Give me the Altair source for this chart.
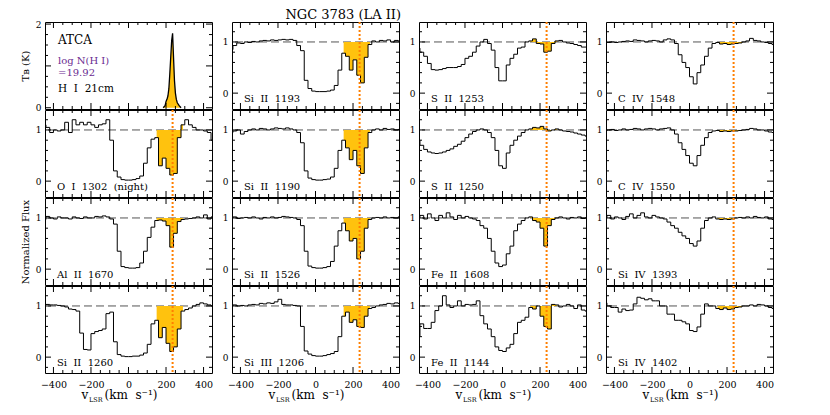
import altair as alt
import pandas as pd

# ---------------- data ----------------
VEL = [-450, -430, -410, -390, -370, -350, -330, -310, -290, -270,
       -250, -230, -210, -190, -170, -150, -130, -110, -90, -70,
       -50, -30, -10, 10, 30, 50, 70, 90, 110, 130,
       150, 170, 190, 210, 230, 250, 270, 290, 310, 330,
       350, 370, 390, 410, 430, 450]

HI_VEL = [185, 195, 200, 205, 210, 215, 220, 225, 230, 235, 240, 245, 250, 255, 260, 270, 280]
HI_TB = [0.0, 0.05, 0.15, 0.2, 0.28, 0.45, 0.8, 1.2, 1.6, 1.78, 1.2, 0.65, 0.35, 0.2, 0.12, 0.05, 0.0]

FLUX_SI2_1193 = [0.85, 0.93, 0.98, 0.97, 1.00, 0.99, 1.01, 1.00, 1.02, 1.03,
                 1.02, 1.04, 1.03, 1.04, 1.05, 1.04, 1.05, 1.03, 0.93, 0.83,
                 0.25, 0.09, 0.04, 0.03, 0.03, 0.03, 0.04, 0.06, 0.15, 0.45,
                 0.78, 0.72, 0.45, 0.65, 0.35, 0.20, 0.70, 0.95, 1.02, 1.00,
                 1.03, 1.02, 1.04, 1.00, 1.03, 1.02]
FLUX_S2_1253 = [0.88, 0.80, 0.72, 0.58, 0.46, 0.45, 0.46, 0.48, 0.50, 0.50,
                0.50, 0.52, 0.56, 0.68, 0.72, 0.80, 0.92, 1.00, 1.05, 0.97,
                0.84, 0.50, 0.24, 0.24, 0.55, 0.68, 0.76, 0.88, 0.90, 1.00,
                1.02, 1.06, 0.97, 0.96, 0.80, 0.82, 0.97, 1.02, 1.03, 1.00,
                0.98, 0.97, 0.95, 0.93, 0.90, 0.90]
FLUX_C4_1548 = [1.00, 0.99, 1.00, 0.99, 1.00, 1.01, 1.02, 1.01, 1.04, 1.03,
                1.02, 1.00, 1.02, 1.03, 1.02, 1.00, 1.04, 1.06, 1.04, 0.97,
                0.75, 0.60, 0.50, 0.32, 0.18, 0.40, 0.55, 0.72, 0.88, 0.97,
                0.99, 0.96, 0.97, 0.95, 0.96, 0.97, 0.98, 1.00, 1.02, 1.07,
                1.03, 1.02, 1.00, 0.99, 0.97, 0.95]
FLUX_OI_1302 = [1.10, 1.05, 0.95, 1.00, 0.98, 1.00, 1.15, 0.95, 1.20, 1.10,
                1.15, 1.10, 1.15, 1.10, 1.05, 1.10, 1.12, 1.20, 0.80, 0.20,
                0.08, 0.03, 0.02, 0.02, 0.03, 0.05, 0.10, 0.35, 0.65, 0.82,
                0.85, 0.30, 0.45, 0.25, 0.12, 0.15, 0.85, 1.10, 1.20, 1.10,
                1.05, 1.00, 1.00, 0.98, 0.95, 0.80]
FLUX_SI2_1190 = [0.95, 0.98, 1.00, 0.92, 0.97, 1.00, 1.02, 1.00, 1.03, 1.02,
                 1.00, 1.02, 1.04, 1.03, 1.02, 1.04, 1.02, 1.00, 0.95, 0.75,
                 0.20, 0.06, 0.03, 0.02, 0.02, 0.03, 0.04, 0.08, 0.25, 0.60,
                 0.80, 0.65, 0.42, 0.60, 0.30, 0.15, 0.65, 0.95, 1.00, 1.02,
                 1.00, 1.03, 1.01, 1.02, 1.00, 1.01]
FLUX_S2_1250 = [0.80, 0.70, 0.62, 0.57, 0.55, 0.54, 0.55, 0.57, 0.60, 0.63,
                0.68, 0.72, 0.78, 0.85, 0.92, 0.97, 1.00, 1.02, 1.00, 0.95,
                0.85, 0.60, 0.30, 0.25, 0.55, 0.70, 0.80, 0.88, 0.95, 1.00,
                1.02, 1.05, 1.04, 1.07, 1.02, 0.98, 1.00, 1.02, 1.00, 0.98,
                0.97, 0.96, 0.94, 0.92, 0.90, 0.88]
FLUX_C4_1550 = [0.98, 1.00, 1.01, 0.99, 1.00, 1.02, 1.00, 1.01, 1.03, 1.02,
                1.00, 1.02, 1.03, 1.02, 1.00, 1.02, 1.03, 1.04, 1.00, 0.92,
                0.75, 0.62, 0.50, 0.35, 0.30, 0.50, 0.70, 0.85, 0.95, 0.98,
                0.99, 0.97, 0.98, 0.97, 0.98, 0.98, 0.99, 1.00, 1.01, 1.03,
                1.02, 1.00, 1.00, 0.98, 0.96, 0.95]
FLUX_AL2_1670 = [0.97, 1.03, 1.00, 0.98, 1.02, 1.00, 1.00, 0.98, 1.02, 1.00,
                 0.99, 1.02, 1.00, 1.00, 1.03, 1.02, 1.04, 1.02, 0.98, 0.88,
                 0.35, 0.05, 0.03, 0.02, 0.02, 0.03, 0.12, 0.35, 0.62, 0.82,
                 0.95, 0.96, 0.94, 0.85, 0.43, 0.70, 0.93, 0.97, 0.98, 0.99,
                 1.00, 1.02, 1.00, 1.06, 0.98, 1.02]
FLUX_SI2_1526 = [1.00, 1.02, 0.99, 1.00, 1.01, 1.00, 1.02, 1.00, 0.98, 1.01,
                 1.00, 1.02, 1.00, 1.01, 1.03, 1.02, 1.01, 1.00, 0.97, 0.85,
                 0.35, 0.06, 0.03, 0.02, 0.02, 0.03, 0.05, 0.15, 0.45, 0.75,
                 0.90, 0.75, 0.55, 0.60, 0.20, 0.35, 0.80, 0.97, 1.00, 1.01,
                 1.00, 1.02, 1.00, 1.01, 1.00, 1.02]
FLUX_FE2_1608 = [1.00, 1.05, 0.98, 1.08, 1.00, 0.95, 1.05, 1.00, 1.10, 1.02,
                 0.97, 1.05, 1.00, 1.03, 1.00, 0.98, 0.95, 0.85, 0.80, 0.60,
                 0.35, 0.12, 0.05, 0.08, 0.30, 0.45, 0.75, 0.88, 0.95, 1.00,
                 1.02, 0.95, 0.92, 0.80, 0.45, 0.85, 0.97, 1.00, 1.02, 1.00,
                 0.98, 1.01, 1.00, 1.02, 0.99, 1.00]
FLUX_SI4_1393 = [1.00, 1.05, 0.98, 1.02, 1.00, 0.97, 1.03, 1.08, 1.00, 1.05,
                 1.10, 1.02, 1.00, 1.05, 1.02, 1.00, 0.98, 0.92, 0.85, 0.80,
                 0.72, 0.65, 0.60, 0.50, 0.45, 0.55, 0.80, 0.95, 1.00, 1.02,
                 0.98, 0.97, 0.98, 0.97, 0.98, 1.00, 1.01, 1.00, 1.02, 1.00,
                 1.03, 1.01, 1.00, 1.02, 0.98, 0.97]
FLUX_SI2_1260 = [1.02, 1.03, 1.02, 1.02, 1.01, 1.00, 0.98, 0.94, 0.93, 0.90,
                 0.47, 0.15, 0.14, 0.46, 0.50, 0.52, 0.55, 0.85, 0.88, 0.30,
                 0.05, 0.02, 0.01, 0.01, 0.02, 0.02, 0.04, 0.08, 0.25, 0.65,
                 0.72, 0.38, 0.58, 0.27, 0.11, 0.20, 0.55, 0.90, 0.93, 0.96,
                 1.00, 1.03, 1.06, 1.04, 1.02, 1.00]
FLUX_SI3_1206 = [1.00, 1.02, 1.00, 1.01, 1.00, 1.02, 1.03, 1.02, 1.05, 1.04,
                 1.06, 1.05, 1.08, 1.13, 1.03, 1.02, 1.02, 1.01, 1.00, 0.60,
                 0.12, 0.06, 0.03, 0.02, 0.02, 0.03, 0.05, 0.07, 0.11, 0.40,
                 0.80, 0.88, 0.68, 0.73, 0.60, 0.58, 0.80, 0.95, 0.97, 1.00,
                 1.02, 1.03, 1.05, 1.04, 1.06, 1.05]
FLUX_FE2_1144 = [0.40, 0.65, 0.56, 0.56, 0.68, 0.91, 1.00, 1.20, 1.02, 0.97,
                 1.00, 1.10, 1.00, 1.03, 1.02, 1.03, 1.10, 0.81, 0.65, 0.55,
                 0.40, 0.20, 0.13, 0.11, 0.18, 0.25, 0.46, 0.68, 0.72, 0.78,
                 0.97, 0.94, 1.00, 0.80, 0.60, 0.55, 1.03, 1.02, 0.98, 1.00,
                 1.03, 1.00, 0.95, 1.02, 0.92, 0.90]
FLUX_SI4_1402 = [1.06, 1.00, 0.97, 0.97, 0.88, 0.94, 0.91, 0.92, 1.04, 1.17,
                 1.15, 1.12, 1.14, 1.10, 1.10, 1.00, 1.00, 0.84, 0.84, 0.72,
                 0.72, 0.69, 0.65, 0.52, 0.50, 0.59, 0.84, 1.04, 1.00, 1.00,
                 0.95, 0.93, 0.96, 0.93, 0.94, 0.97, 0.98, 1.00, 1.00, 1.02,
                 1.00, 1.03, 1.02, 1.00, 0.97, 0.95]

LABELS = [
    ["H I 21cm", "Si II 1193", "S II 1253", "C IV 1548"],
    ["O I 1302 (night)", "Si II 1190", "S II 1250", "C IV 1550"],
    ["Al II 1670", "Si II 1526", "Fe II 1608", "Si IV 1393"],
    ["Si II 1260", "Si III 1206", "Fe II 1144", "Si IV 1402"],
]
FLUXES = [
    [None, FLUX_SI2_1193, FLUX_S2_1253, FLUX_C4_1548],
    [FLUX_OI_1302, FLUX_SI2_1190, FLUX_S2_1250, FLUX_C4_1550],
    [FLUX_AL2_1670, FLUX_SI2_1526, FLUX_FE2_1608, FLUX_SI4_1393],
    [FLUX_SI2_1260, FLUX_SI3_1206, FLUX_FE2_1144, FLUX_SI4_1402],
]

X_MAJ = [-400, -200, 0, 200, 400]
X_MIN = [-350, -300, -250, -150, -100, -50, 50, 100, 150, 250, 300, 350]
Y_MAJ = [0, 1]
Y_MIN = [-0.2, 0.2, 0.4, 0.6, 0.8, 1.2]
HI_Y_MAJ = [0, 1, 2]
HI_Y_MIN = [0.25, 0.5, 0.75, 1.25, 1.5, 1.75]

TITLE = "NGC 3783 (LA II)"
V_HVC = 235
FILL_LO, FILL_HI = 150, 290

# ---------------- style ----------------
W, H = 167, 87
FONT = "DejaVu Serif"
XDOM = [-445, 445]
YDOM = [-0.31, 1.39]
HI_YDOM = [-0.03, 2.05]
FILLC = "#FFC20E"
DOTC = "#FF7F00"
DASHC = "#555555"
PURPLE = "#6A2C91"
MAJ, MINL = 6, 3


def sp(s):
    return s.replace(" ", "\u00a0\u00a0")


def xsc():
    return alt.Scale(domain=XDOM, nice=False, zero=False)


def ysc(dom):
    return alt.Scale(domain=dom, nice=False, zero=False)


def make_x_axis(bottom):
    if bottom:
        return alt.Axis(values=X_MAJ, labelFont=FONT, labelFontSize=9.5, labelPadding=6, labelColor="black",
                        ticks=False, domain=False, grid=False, title=None)
    return None


def make_y_axis(vals, title):
    if title:
        return alt.Axis(values=vals, format="d", labelFont=FONT, labelFontSize=9, labelPadding=4,
                        labelColor="black", ticks=False, domain=False, grid=False, title=title,
                        titleFont=FONT, titleFontSize=10, titleFontWeight="normal", titleColor="black",
                        titlePadding=5)
    return alt.Axis(values=vals, format="d", labelFont=FONT, labelFontSize=9, labelPadding=4,
                    labelColor="black", ticks=False, domain=False, grid=False, title=None)


def tick_layers(ydom, ymaj, ymin, xax, yax):
    layers = []
    for vals, ln in ((X_MAJ, MAJ), (X_MIN, MINL)):
        d = pd.DataFrame({"t": vals})
        for y0, y1 in ((H, H - ln), (0, ln)):
            layers.append(alt.Chart(d).mark_rule(color="black", strokeWidth=1).encode(
                x=alt.X("t:Q", scale=xsc(), axis=xax), y=alt.value(y0), y2=alt.value(y1)))
    for vals, ln in ((ymaj, MAJ), (ymin, MINL)):
        d = pd.DataFrame({"t": vals})
        for x0, x1 in ((0, ln), (W, W - ln)):
            layers.append(alt.Chart(d).mark_rule(color="black", strokeWidth=1).encode(
                y=alt.Y("t:Q", scale=ysc(ydom), axis=yax), x=alt.value(x0), x2=alt.value(x1)))
    return layers


def text_layer(s, x, y, size=10, color="black", align="left"):
    return alt.Chart(pd.DataFrame({"s": [s]})).mark_text(
        font=FONT, fontSize=size, color=color, align=align, baseline="alphabetic").encode(
        text="s:N", x=alt.value(x), y=alt.value(y))


def xtitle_layers():
    return [
        text_layer("v", W / 2 - 47, H + 26, size=12),
        text_layer("LSR", W / 2 - 39.5, H + 29, size=6.5),
        text_layer("(km\u00a0\u00a0s\u207b\u00b9)", W / 2 - 24, H + 26, size=12),
    ]


def abs_panel(r, c):
    flux = FLUXES[r][c]
    df = pd.DataFrame({"v": VEL, "f": flux, "one": [1.0] * len(VEL)})
    bottom = r == 3
    ytitle = "Normalized Flux" if (r == 2 and c == 0) else None
    xax = make_x_axis(bottom)
    yax = make_y_axis(Y_MAJ, ytitle)
    dash = alt.Chart(pd.DataFrame({"c": [1.0]})).mark_rule(
        color=DASHC, strokeDash=[8, 4], strokeWidth=1).encode(
        y=alt.Y("c:Q", scale=ysc(YDOM), axis=yax))
    fill = alt.Chart(df).transform_filter(
        f"datum.v >= {FILL_LO} && datum.v <= {FILL_HI}").mark_area(
        interpolate="step", color=FILLC, opacity=1, clip=True).encode(
        x=alt.X("v:Q", scale=xsc(), axis=xax),
        y=alt.Y("f:Q", scale=ysc(YDOM), axis=yax),
        y2="one:Q")
    line = alt.Chart(df).mark_line(interpolate="step", color="black", strokeWidth=1, clip=True).encode(
        x=alt.X("v:Q", scale=xsc(), axis=xax),
        y=alt.Y("f:Q", scale=ysc(YDOM), axis=yax))
    dot = alt.Chart(pd.DataFrame({"c": [V_HVC]})).mark_rule(
        color=DOTC, strokeDash=[2, 2], strokeWidth=2).encode(
        x=alt.X("c:Q", scale=xsc(), axis=xax))
    layers = [dash, fill, line, dot] + tick_layers(YDOM, Y_MAJ, Y_MIN, xax, yax)
    layers.append(text_layer(sp(LABELS[r][c]), 12, H - 7))
    if r == 0 and c == 1:
        layers.append(text_layer(TITLE, W + 2, -3, size=13, align="right"))
    if bottom:
        layers += xtitle_layers()
    return alt.layer(*layers).properties(width=W, height=H)


def hi_panel():
    df = pd.DataFrame({"v": HI_VEL, "t": HI_TB, "zero": [0.0] * len(HI_VEL)})
    xax = None
    yax = make_y_axis(HI_Y_MAJ, "T\u0299 (K)")
    fill = alt.Chart(df).mark_area(color=FILLC, clip=True).encode(
        x=alt.X("v:Q", scale=xsc(), axis=xax),
        y=alt.Y("t:Q", scale=ysc(HI_YDOM), axis=yax), y2="zero:Q")
    line = alt.Chart(df).mark_line(color="black", strokeWidth=1.3, clip=True).encode(
        x=alt.X("v:Q", scale=xsc(), axis=xax),
        y=alt.Y("t:Q", scale=ysc(HI_YDOM), axis=yax))
    layers = [fill, line] + tick_layers(HI_YDOM, HI_Y_MAJ, HI_Y_MIN, xax, yax)
    layers += [
        text_layer("ATCA", 13, 22, size=12),
        text_layer("log N(H I)", 13, 42, size=10, color=PURPLE),
        text_layer("=19.92", 13, 54, size=10, color=PURPLE),
        text_layer(sp("H I 21cm"), 13, 70, size=10.5),
    ]
    return alt.layer(*layers).properties(width=W, height=H)


panels = []
for r in range(4):
    for c in range(4):
        if r == 0 and c == 0:
            panels.append(hi_panel())
        else:
            panels.append(abs_panel(r, c))

chart = alt.concat(*panels, columns=4, spacing={"row": 1, "column": 20}, bounds="flush").properties(
    padding={"left": 11, "top": 0, "right": 5, "bottom": 5}
).configure_view(stroke="black", strokeWidth=1)

chart.save("out.html", embed_options={"renderer": "svg", "actions": False})
